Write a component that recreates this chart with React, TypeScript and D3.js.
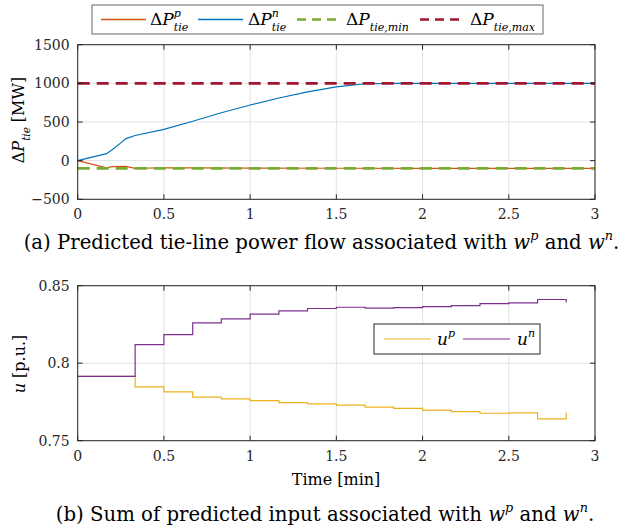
import React, { useEffect, useRef } from "react";
import * as d3 from "d3";

// panel (a): predicted tie-line power flow
const tieTimeP = [0, 0.167, 0.2, 0.28, 0.333, 0.5, 0.667, 1, 1.5, 2, 2.5, 3];
const tieP = [0, -92, -78, -74, -100, -92, -94, -97, -98, -100, -100, -100];
const tieTimeN = [0, 0.167, 0.2, 0.25, 0.28, 0.333, 0.5, 0.667, 0.833, 1, 1.167, 1.333, 1.5, 1.667, 1.833, 2, 2.5, 3];
const tieN = [0, 90, 140, 230, 285, 325, 405, 510, 620, 720, 810, 890, 955, 995, 1000, 1000, 1000, 1000];
const tieMin = -100;
const tieMax = 1000;

// panel (b): sum of predicted input (stairs)
const uTime = [0, 0.333, 0.5, 0.667, 0.833, 1, 1.167, 1.333, 1.5, 1.667, 1.833, 2, 2.167, 2.333, 2.5, 2.667, 2.833];
const uP = [0.7915, 0.7847, 0.7815, 0.7781, 0.777, 0.7759, 0.7746, 0.7738, 0.7729, 0.7716, 0.7708, 0.7697, 0.7688, 0.7677, 0.7679, 0.7641, 0.768];
const uN = [0.7915, 0.812, 0.8185, 0.826, 0.8286, 0.8316, 0.8337, 0.8353, 0.8361, 0.8355, 0.8359, 0.8365, 0.8372, 0.8385, 0.8389, 0.8411, 0.8392];

const xTicks = [0, 0.5, 1, 1.5, 2, 2.5, 3];
const yTicksA = [-500, 0, 500, 1000, 1500];
const yTicksB = [0.75, 0.8, 0.85];

const FONT = "DejaVu Serif";
const C = {
  blue: "#0072BD",
  orange: "#D95319",
  yellow: "#EDB120",
  purple: "#7E2F8E",
  green: "#77AC30",
  red: "#A2142F",
  axis: "#262626",
  grid: "#e3e3e3",
};

type Part = { t: string; it?: boolean; pos?: "sup" | "sub"; stack?: boolean };

// lays out a small piece of math-like text (sub/superscripts) and returns its width
function drawMath(
  parent: any,
  x: number,
  y: number,
  parts: Part[],
  size: number,
  anchor: "start" | "middle" | "end" = "start",
  rotate = 0
) {
  const outer = parent.append("g").attr("transform", `translate(${x},${y}) rotate(${rotate})`);
  const g = outer.append("g");
  let cursor = 0;
  let lastStart = 0;
  let lastEnd = 0;
  parts.forEach((p) => {
    const fs = p.pos ? size * 0.65 : size;
    const dy = p.pos === "sup" ? -size * 0.45 : p.pos === "sub" ? size * 0.35 : 0;
    const px = p.stack ? lastStart : cursor;
    const t = g
      .append("text")
      .attr("x", px)
      .attr("y", dy)
      .attr("font-family", FONT)
      .attr("font-size", fs)
      .attr("font-style", p.it ? "italic" : "normal")
      .attr("fill", "#000")
      .style("white-space", "pre")
      .text(p.t);
    const w = (t.node() as SVGTextElement).getComputedTextLength();
    if (p.stack) {
      cursor = Math.max(lastEnd, px + w);
    } else {
      lastStart = px;
      cursor = px + w;
    }
    lastEnd = cursor;
  });
  const shift = anchor === "middle" ? -cursor / 2 : anchor === "end" ? -cursor : 0;
  g.attr("transform", `translate(${shift},0)`);
  return cursor;
}

function drawGrid(svg: any, x: any, y: any, yTicks: number[]) {
  const [x0, x1] = x.range();
  const [yb, yt] = y.range();
  const g = svg.append("g");
  xTicks.forEach((t) => {
    g.append("line").attr("x1", x(t)).attr("x2", x(t)).attr("y1", yb).attr("y2", yt)
      .attr("stroke", C.grid).attr("stroke-width", 1);
  });
  yTicks.forEach((t) => {
    g.append("line").attr("x1", x0).attr("x2", x1).attr("y1", y(t)).attr("y2", y(t))
      .attr("stroke", C.grid).attr("stroke-width", 1);
  });
}

function drawFrame(svg: any, x: any, y: any, yTicks: number[], yFmt: (v: number) => string) {
  const [x0, x1] = x.range();
  const [yb, yt] = y.range();
  const g = svg.append("g");
  const tl = 5;
  xTicks.forEach((t) => {
    g.append("line").attr("x1", x(t)).attr("x2", x(t)).attr("y1", yb).attr("y2", yb - tl).attr("stroke", C.axis);
    g.append("line").attr("x1", x(t)).attr("x2", x(t)).attr("y1", yt).attr("y2", yt + tl).attr("stroke", C.axis);
    g.append("text").attr("x", x(t)).attr("y", yb + 20).attr("text-anchor", "middle")
      .attr("font-family", FONT).attr("font-size", 14).attr("fill", C.axis).text(String(t));
  });
  yTicks.forEach((t) => {
    g.append("line").attr("x1", x0).attr("x2", x0 + tl).attr("y1", y(t)).attr("y2", y(t)).attr("stroke", C.axis);
    g.append("line").attr("x1", x1).attr("x2", x1 - tl).attr("y1", y(t)).attr("y2", y(t)).attr("stroke", C.axis);
    g.append("text").attr("x", x0 - 8).attr("y", y(t) + 5).attr("text-anchor", "end")
      .attr("font-family", FONT).attr("font-size", 14).attr("fill", C.axis).text(yFmt(t));
  });
  g.append("rect").attr("x", x0).attr("y", yt).attr("width", x1 - x0).attr("height", yb - yt)
    .attr("fill", "none").attr("stroke", C.axis).attr("stroke-width", 1);
}

export default function App() {
  const svgRef = useRef<SVGSVGElement>(null);
  const width = 625;
  const height = 529;

  useEffect(() => {
    const svg = d3.select(svgRef.current);
    svg.selectAll("*").remove();

    const x = d3.scaleLinear().domain([0, 3]).range([77.7, 595]);

    // ---------- panel (a) ----------
    const yA = d3.scaleLinear().domain([-500, 1500]).range([199.3, 44.7]);
    drawGrid(svg, x, yA, yTicksA);

    svg.append("defs").append("clipPath").attr("id", "clipA")
      .append("rect").attr("x", 77.7).attr("y", 44.7).attr("width", 595 - 77.7).attr("height", 199.3 - 44.7);

    const plotA = svg.append("g").attr("clip-path", "url(#clipA)");
    const line = d3.line<[number, number]>().x((d) => x(d[0])).y((d) => yA(d[1]));

    plotA.append("path").attr("d", line(tieTimeP.map((t, i) => [t, tieP[i]]) as any))
      .attr("fill", "none").attr("stroke", C.orange).attr("stroke-width", 1.2);
    plotA.append("path").attr("d", line(tieTimeN.map((t, i) => [t, tieN[i]]) as any))
      .attr("fill", "none").attr("stroke", C.blue).attr("stroke-width", 1.2);
    plotA.append("line").attr("x1", x(0)).attr("x2", x(3)).attr("y1", yA(tieMin)).attr("y2", yA(tieMin))
      .attr("stroke", C.green).attr("stroke-width", 2.6).attr("stroke-dasharray", "12,7");
    plotA.append("line").attr("x1", x(0)).attr("x2", x(3)).attr("y1", yA(tieMax)).attr("y2", yA(tieMax))
      .attr("stroke", C.red).attr("stroke-width", 2.6).attr("stroke-dasharray", "12,7");

    drawFrame(svg, x, yA, yTicksA, (v) => (v < 0 ? "\u2212" + Math.abs(v) : String(v)));

    // y label (a)
    drawMath(svg, 24, 120, [
      { t: "\u0394" }, { t: "P", it: true }, { t: "tie", it: true, pos: "sub" }, { t: " [MW]" },
    ], 16, "middle", -90);

    // legend (a)
    const legA = svg.append("g");
    legA.append("rect").attr("x", 92).attr("y", 5).attr("width", 451).attr("height", 29)
      .attr("fill", "#fff").attr("stroke", "#666").attr("stroke-width", 1);
    const legItemsA = [
      { x0: 101, sym: "p", color: C.orange, dash: null as string | null, sub: "tie", tx: 150 },
      { x0: 198, sym: "n", color: C.blue, dash: null, sub: "tie", tx: 248 },
      { x0: 297, sym: "", color: C.green, dash: "9,6", sub: "tie,min", tx: 346 },
      { x0: 420, sym: "", color: C.red, dash: "9,6", sub: "tie,max", tx: 470 },
    ];
    legItemsA.forEach((d) => {
      const ln = legA.append("line").attr("x1", d.x0).attr("x2", d.x0 + 45).attr("y1", 19.5).attr("y2", 19.5)
        .attr("stroke", d.color).attr("stroke-width", d.dash ? 2.4 : 1.4);
      if (d.dash) ln.attr("stroke-dasharray", d.dash);
      const parts: Part[] = [{ t: "\u0394" }, { t: "P", it: true }];
      if (d.sym) {
        parts.push({ t: d.sym, it: true, pos: "sup" });
        parts.push({ t: d.sub, it: true, pos: "sub", stack: true });
      } else {
        parts.push({ t: d.sub, it: true, pos: "sub" });
      }
      drawMath(legA, d.tx, 25, parts, 17, "start");
    });

    // caption (a)
    drawMath(svg, 321.5, 249, [
      { t: "(a) Predicted tie-line power flow associated with " },
      { t: "w", it: true }, { t: "p", it: true, pos: "sup" },
      { t: " and " },
      { t: "w", it: true }, { t: "n", it: true, pos: "sup" },
      { t: "." },
    ], 19.7, "middle");

    // ---------- panel (b) ----------
    const yB = d3.scaleLinear().domain([0.75, 0.85]).range([440.7, 285.7]);
    drawGrid(svg, x, yB, yTicksB);

    const stairs = d3.line<[number, number]>().x((d) => x(d[0])).y((d) => yB(d[1])).curve(d3.curveStepAfter);
    svg.append("path").attr("d", stairs(uTime.map((t, i) => [t, uP[i]]) as any))
      .attr("fill", "none").attr("stroke", C.yellow).attr("stroke-width", 1.2);
    svg.append("path").attr("d", stairs(uTime.map((t, i) => [t, uN[i]]) as any))
      .attr("fill", "none").attr("stroke", C.purple).attr("stroke-width", 1.2);

    drawFrame(svg, x, yB, yTicksB, (v) => String(v));

    // y label (b)
    drawMath(svg, 25, 364, [{ t: "u", it: true }, { t: " [p.u.]" }], 16, "middle", -90);
    // x label (b)
    drawMath(svg, 336, 485, [{ t: "Time [min]" }], 16, "middle");

    // legend (b)
    const legB = svg.append("g");
    legB.append("rect").attr("x", 374).attr("y", 324).attr("width", 166).attr("height", 30)
      .attr("fill", "#fff").attr("stroke", C.axis).attr("stroke-width", 1);
    [
      { x0: 384, color: C.yellow, sym: "p", tx: 437 },
      { x0: 463, color: C.purple, sym: "n", tx: 517 },
    ].forEach((d) => {
      legB.append("line").attr("x1", d.x0).attr("x2", d.x0 + 47).attr("y1", 339).attr("y2", 339)
        .attr("stroke", d.color).attr("stroke-width", 1.2);
      drawMath(legB, d.tx, 345, [{ t: "u", it: true }, { t: d.sym, it: true, pos: "sup" }], 17, "start");
    });

    // caption (b)
    drawMath(svg, 325, 521, [
      { t: "(b) Sum of predicted input associated with " },
      { t: "w", it: true }, { t: "p", it: true, pos: "sup" },
      { t: " and " },
      { t: "w", it: true }, { t: "n", it: true, pos: "sup" },
      { t: "." },
    ], 19.7, "middle");
  }, []);

  return (
    <svg
      ref={svgRef}
      width={width}
      height={height}
      style={{ position: "absolute", left: 0, top: 0, background: "#fff" }}
    ></svg>
  );
}
